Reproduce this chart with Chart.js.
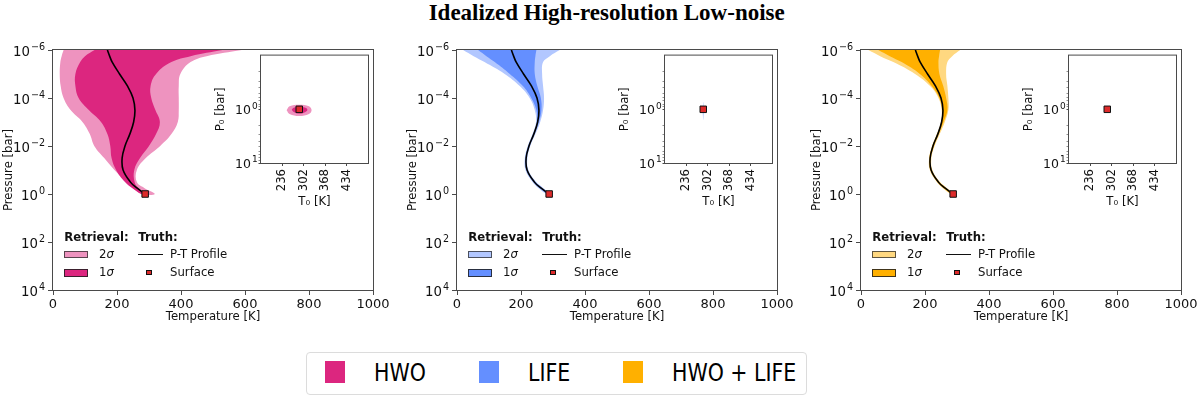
<!DOCTYPE html>
<html><head><meta charset="utf-8">
<script src="https://cdn.jsdelivr.net/npm/chart.js@4.4.1/dist/chart.umd.min.js"></script>
<style>
html,body{margin:0;padding:0;background:#fff;}
body{width:1200px;height:398px;position:relative;overflow:hidden;font-family:"DejaVu Sans",sans-serif;color:#111;}
canvas{position:absolute;}
.tx{position:absolute;white-space:nowrap;line-height:1;}
.sp{position:relative;margin-left:1px;}
</style></head><body>
<script>
// ---------------- data ----------------
const pressureBar = [1e-6, 1.8e-6, 3.2e-6, 1e-5, 3.2e-5, 1e-4, 3.2e-4, 1e-3, 3.2e-3, 1e-2, 3.2e-2, 0.1, 0.32, 0.56, 1];
const truthT      = [170, 177, 185, 208, 233, 250, 256, 252, 240, 225, 216, 219, 242, 262, 288];

const hwoLo2  = [33, 27, 23, 21, 24, 33, 55, 92, 115, 129, 160, 192, 230, 252, 276];
const hwoLo1  = [130, 100, 85, 70, 70, 80, 112, 150, 170, 179, 183, 197, 225, 247, 276];
const hwoHi1  = [530, 430, 370, 322, 305, 307, 320, 334, 322, 300, 272, 254, 255, 266, 290];
const hwoHi2  = [590, 480, 430, 398, 393, 393, 393, 390, 370, 335, 290, 262, 262, 285, 318];

const lifeLo2 = [19, 52, 86, 149, 196, 227, 243, 247, 236, 221, 212, 214, 236, 254, 280];
const lifeLo1 = [66, 92, 118, 165, 206, 232, 248, 250, 238, 223, 214, 217, 239, 258, 284];
const lifeHi1 = [248, 245, 243, 243, 251, 262, 264, 256, 242, 227, 218, 221, 245, 266, 290];
const lifeHi2 = [321, 290, 269, 266, 269, 272, 269, 260, 245, 229, 220, 223, 248, 269, 292];

const bothLo2 = [23, 60, 101, 169, 216, 242, 252, 250, 237, 222, 213, 215, 237, 255, 281];
const bothLo1 = [54, 90, 127, 184, 221, 245, 254, 251, 238, 223, 214, 217, 239, 258, 284];
const bothHi1 = [247, 244, 242, 245, 257, 266, 270, 258, 243, 228, 218, 221, 245, 265, 290];
const bothHi2 = [310, 285, 270, 266, 270, 273, 273, 262, 246, 230, 220, 223, 247, 268, 292];

const surfaceT = 288, surfaceP = 1;

// inset contours (T0 [K], P0 [bar])
const hwoInset2T  = [249, 258, 288, 318, 326, 318, 288, 258, 249];
const hwoInset2P  = [1.04, 0.88, 0.82, 0.88, 1.04, 1.22, 1.33, 1.22, 1.04];
const hwoInset1T  = [265, 271, 289, 307, 313, 307, 289, 271, 265];
const hwoInset1P  = [1.02, 0.94, 0.91, 0.94, 1.02, 1.12, 1.2, 1.12, 1.02];
const lifeInset2T = [286, 287, 288, 289, 290, 289, 288, 287, 286];
const lifeInset2P = [1.05, 0.85, 0.72, 0.85, 1.05, 1.35, 1.6, 1.35, 1.05];

// ticks
const tempTicks = [0, 200, 400, 600, 800, 1000];
const pressureTicks = [1e-6, 1e-4, 1e-2, 1, 1e2, 1e4];
const pressureTickExp = ['\u22126', '\u22124', '\u22122', '0', '2', '4'];
const insetTempTicks = [236, 302, 368, 434];
const insetPMajor = [1, 10];
const insetPMajorExp = ['0', '1'];
const insetPMinor = [0.2, 0.3, 0.4, 0.5, 0.6, 0.7, 0.8, 0.9, 2, 3, 4, 5, 6, 7, 8, 9];

const seriesNames = ['HWO', 'LIFE', 'HWO + LIFE'];
const color1s = ['#DC267F', '#648FFF', '#FFB000'];
const color2s = ['#EE93BF', '#B2C7FF', '#FFD880'];
const surfaceColor = '#DD2A2A';

// ---------------- layout ----------------
const AXIS_LEFT = [53, 457, 861];
const FONT = {family: 'DejaVu Sans', size: 11.7};
const TICKFONT = {family: 'DejaVu Sans', size: 13};
const TXT = '#111';
const SPINE = '#4a4a4a';

const bands = [
  {lo2: hwoLo2, lo1: hwoLo1, hi1: hwoHi1, hi2: hwoHi2, inset: [[hwoInset1T, hwoInset1P], [hwoInset2T, hwoInset2P]]},
  {lo2: lifeLo2, lo1: lifeLo1, hi1: lifeHi1, hi2: lifeHi2, inset: [[lifeInset2T, lifeInset2P]]},
  {lo2: bothLo2, lo1: bothLo1, hi1: bothHi1, hi2: bothHi2, inset: []}
];

function addCanvas(left, top, w, h, z) {
  const c = document.createElement('canvas');
  c.width = w; c.height = h;
  c.style.left = left + 'px'; c.style.top = top + 'px';
  c.style.width = w + 'px'; c.style.height = h + 'px';
  c.style.zIndex = z;
  document.body.appendChild(c);
  return c;
}
function addText(html, left, top, style) {
  const d = document.createElement('div');
  d.className = 'tx';
  d.innerHTML = html;
  d.style.left = left + 'px'; d.style.top = top + 'px';
  if (style) Object.assign(d.style, style);
  document.body.appendChild(d);
  return d;
}
function addBox(left, top, w, h, style) {
  const d = document.createElement('div');
  d.style.position = 'absolute';
  d.style.left = left + 'px'; d.style.top = top + 'px';
  d.style.width = w + 'px'; d.style.height = h + 'px';
  d.style.boxSizing = 'border-box';
  Object.assign(d.style, style || {});
  document.body.appendChild(d);
  return d;
}
// power-of-ten labels positioned from the library's own y scale
function addPowLabels(chart, canvasTop, values, exps, rightX, fsBase, fsSup, dy) {
  const sc = chart.scales.y;
  values.forEach((v, k) => {
    const py = sc.getPixelForValue(v) + canvasTop;
    const d = addText('10<span class="sp" style="font-size:' + fsSup + 'px;top:-' + (fsBase * 0.42).toFixed(1) + 'px">' + exps[k] + '</span>',
      0, py - fsBase * 0.48 + dy, {fontSize: fsBase + 'px', zIndex: 4});
    d.style.left = (rightX - d.offsetWidth) + 'px';
  });
}

const framePlugin = {
  id: 'frame',
  beforeDatasetsDraw(chart, args, opts) {
    if (opts && opts.white) {
      const {ctx, chartArea: a} = chart;
      ctx.save(); ctx.fillStyle = '#fff';
      ctx.fillRect(a.left, a.top, a.width, a.height);
      ctx.restore();
    }
  },
  afterDraw(chart) {
    const {ctx, chartArea: a} = chart;
    ctx.save();
    ctx.strokeStyle = SPINE; ctx.lineWidth = 1;
    ctx.strokeRect(a.left - 0.5, a.top - 0.5, a.width + 1, a.height + 1);
    ctx.restore();
  }
};

const pts = (ts, ps) => ts.map((t, k) => ({x: t, y: ps[k]}));
function poly(lo, hi) {
  return pts(lo, pressureBar).concat(pts(hi, pressureBar).reverse());
}

function makeMain(i) {
  const ax = AXIS_LEFT[i];
  const b = bands[i];
  const c = addCanvas(ax - 53, 0, 53 + 320 + 22, 330, 1);
  const ch = new Chart(c, {
    type: 'scatter',
    data: {datasets: [
      {data: [{x: surfaceT, y: surfaceP}], pointStyle: 'rect', pointRadius: 4.6,
       backgroundColor: surfaceColor, borderColor: '#111', borderWidth: 1},
      {data: pts(truthT, pressureBar), showLine: true, borderColor: '#000', borderWidth: 1.6,
       pointRadius: 0, tension: 0.4, fill: false},
      {data: poly(b.lo1, b.hi1), showLine: true, borderWidth: 0, borderColor: 'rgba(0,0,0,0)',
       pointRadius: 0, tension: 0.4, fill: 'shape', backgroundColor: color1s[i]},
      {data: poly(b.lo2, b.hi2), showLine: true, borderWidth: 0, borderColor: 'rgba(0,0,0,0)',
       pointRadius: 0, tension: 0.4, fill: 'shape', backgroundColor: color2s[i]}
    ]},
    options: {
      responsive: false, animation: false, devicePixelRatio: 1,
      layout: {padding: {top: 50, right: 22, bottom: 2, left: 0}},
      plugins: {legend: {display: false}, tooltip: {enabled: false}},
      events: [],
      scales: {
        x: {
          type: 'linear', min: 0, max: 1000,
          afterBuildTicks: sc => { sc.ticks = tempTicks.map(v => ({value: v})); },
          afterFit: sc => { sc.height = 38; },
          grid: {drawOnChartArea: false, tickLength: 5, color: SPINE},
          border: {display: false},
          ticks: {font: TICKFONT, color: TXT, padding: 2, maxRotation: 0, autoSkip: false, callback: v => String(v)},
          title: {display: true, text: 'Temperature [K]', font: FONT, color: TXT, padding: {top: 0, bottom: 4}}
        },
        y: {
          type: 'logarithmic', reverse: true, min: 1e-6, max: 1e4,
          afterBuildTicks: sc => { sc.ticks = pressureTicks.map(v => ({value: v})); },
          afterFit: sc => { sc.width = 53; },
          grid: {drawOnChartArea: false, tickLength: 5, color: SPINE},
          border: {display: false},
          ticks: {display: false},
          title: {display: true, text: 'Pressure [bar]', font: FONT, color: TXT, padding: {top: 2, bottom: 0}}
        }
      }
    },
    plugins: [framePlugin]
  });
  addPowLabels(ch, 0, pressureTicks, pressureTickExp, ax - 8, 13.3, 9.6, 1.2);
}

function makeInset(i) {
  const il = AXIS_LEFT[i] + 208;
  const b = bands[i];
  const c = addCanvas(il - 48, 50, 48 + 107 + 6, 5 + 108 + 50, 2);
  const ds = [{data: [{x: surfaceT, y: surfaceP}], pointStyle: 'rect', pointRadius: 4.6,
               backgroundColor: surfaceColor, borderColor: '#111', borderWidth: 1}];
  const cols = b.inset.length === 2 ? [color1s[i], color2s[i]] : [color2s[i]];
  b.inset.forEach((ct, k) => {
    ds.push({data: pts(ct[0], ct[1]), showLine: true, borderWidth: 0, borderColor: 'rgba(0,0,0,0)',
             pointRadius: 0, tension: 0.4, fill: 'shape', backgroundColor: cols[k]});
  });
  const ch = new Chart(c, {
    type: 'scatter',
    data: {datasets: ds},
    options: {
      responsive: false, animation: false, devicePixelRatio: 1,
      layout: {padding: {top: 5, right: 6, bottom: 0, left: 0}},
      plugins: {legend: {display: false}, tooltip: {enabled: false}, frame: {white: true}},
      events: [],
      scales: {
        x: {
          type: 'linear', min: 170, max: 500,
          afterBuildTicks: sc => { sc.ticks = insetTempTicks.map(v => ({value: v})); },
          afterFit: sc => { sc.height = 50; },
          grid: {drawOnChartArea: false, tickLength: 3, color: SPINE},
          border: {display: false},
          ticks: {font: FONT, color: TXT, padding: 3, minRotation: 90, maxRotation: 90, autoSkip: false, callback: v => String(v)},
          title: {display: true, text: 'T\u2080 [K]', font: FONT, color: TXT, padding: {top: 0, bottom: 4}}
        },
        y: {
          type: 'logarithmic', reverse: true, min: 0.1, max: 10,
          afterBuildTicks: sc => { sc.ticks = insetPMinor.concat(insetPMajor).sort((a, b) => a - b).map(v => ({value: v})); },
          afterFit: sc => { sc.width = 48; },
          grid: {drawOnChartArea: false, tickLength: 2.5, color: SPINE,
                 tickWidth: ctx => (ctx.tick && insetPMajor.includes(ctx.tick.value)) ? 1 : 0.6},
          border: {display: false},
          ticks: {display: false},
          title: {display: true, text: 'P\u2080 [bar]', font: FONT, color: TXT, padding: {top: 1, bottom: 0}}
        }
      }
    },
    plugins: [framePlugin]
  });
  addPowLabels(ch, 50, insetPMajor, insetPMajorExp, il - 3, 12.5, 9, 0.5);
}

function makePanelLegend(i) {
  const ax = AXIS_LEFT[i];
  const fs = '11.7px';
  const st = {fontSize: fs, zIndex: 3};
  addText('Retrieval:', ax + 11.3, 237.3 - 5.6, Object.assign({fontWeight: 'bold'}, st));
  addText('Truth:', ax + 85.3, 237.3 - 5.6, Object.assign({fontWeight: 'bold'}, st));
  addBox(ax + 10.8, 250.7, 24.4, 7.7, {background: color2s[i], border: '1px solid rgba(40,40,40,0.75)', zIndex: 3});
  addBox(ax + 10.8, 269, 24.4, 7.7, {background: color1s[i], border: '1px solid rgba(30,30,30,0.85)', zIndex: 3});
  addText('2<i>\u03C3</i>', ax + 46, 254.5 - 5.6, st);
  addText('1<i>\u03C3</i>', ax + 46, 272.8 - 5.6, st);
  addBox(ax + 84.5, 253.6, 25.5, 1.5, {background: '#111', zIndex: 3});
  addBox(ax + 93.3, 269.6, 5.6, 5.6, {background: surfaceColor, border: '1px solid #111', zIndex: 3});
  addText('P-T Profile', ax + 117, 254.5 - 5.6, st);
  addText('Surface', ax + 117, 272.8 - 5.6, st);
}

// title
addText('Idealized High-resolution Low-noise', 606.7, 1,
  {fontFamily: '"Liberation Serif", serif', fontWeight: 'bold', fontSize: '23px', transform: 'translateX(-50%)', color: '#000'});

for (let i = 0; i < 3; i++) { makeMain(i); makeInset(i); makePanelLegend(i); }

// bottom legend
addBox(305.7, 352.3, 501, 42.7, {border: '1px solid #dcdcdc', borderRadius: '4px', background: '#fff'});
const patchX = [325, 479, 623];
const textX = [374, 528, 672];
seriesNames.forEach((n, k) => {
  addBox(patchX[k], 360.7, 20, 22.6, {background: color1s[k]});
  addText(n, textX[k], 360.2, {fontSize: '25px', transform: 'scaleX(0.82)', transformOrigin: 'left center', color: '#000'});
});
</script>
</body></html>
